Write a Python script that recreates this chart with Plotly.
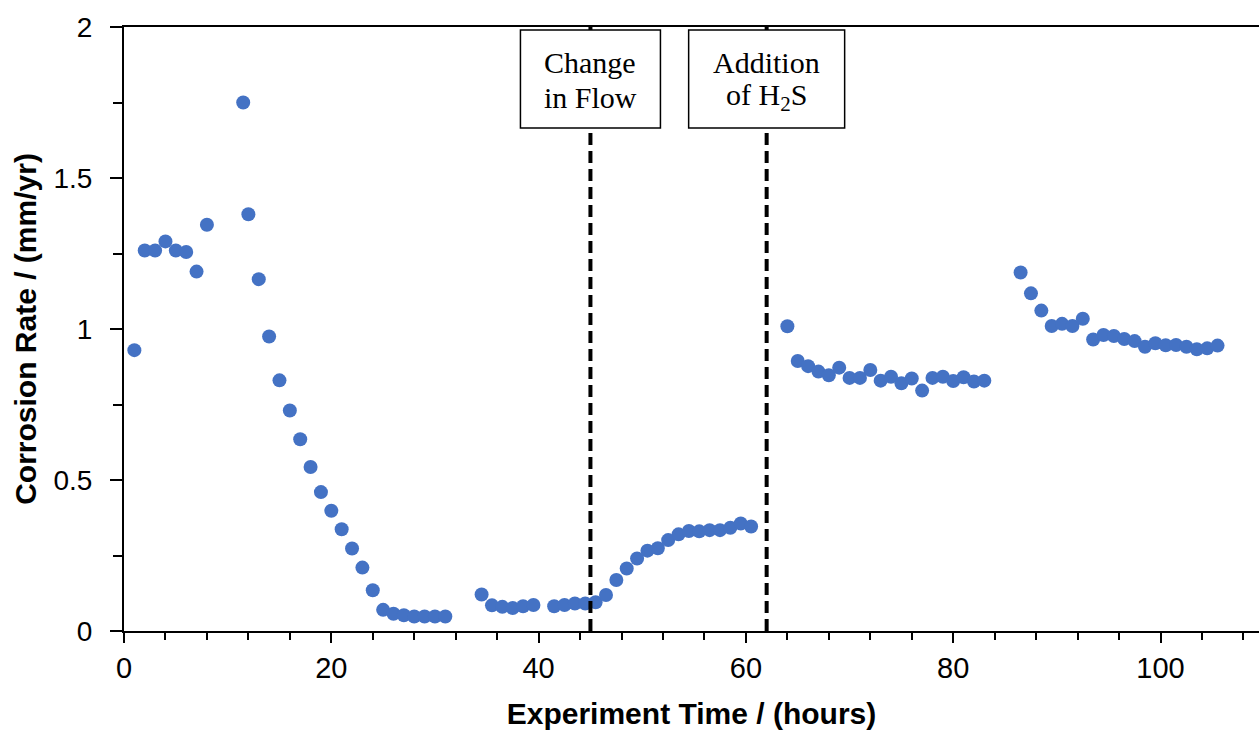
import plotly.graph_objects as go

# ---- data ----
time_hours = [1, 2, 3, 4, 5, 6, 7, 8, 11.5, 12, 13, 14, 15, 16, 17, 18, 19, 20, 21, 22, 23, 24,
              25, 26, 27, 28, 29, 30, 31,
              34.5, 35.5, 36.5, 37.5, 38.5, 39.5,
              41.5, 42.5, 43.5, 44.5, 45.5, 46.5, 47.5, 48.5, 49.5, 50.5, 51.5, 52.5, 53.5,
              54.5, 55.5, 56.5, 57.5, 58.5, 59.5, 60.5,
              64, 65, 66, 67, 68, 69, 70, 71, 72, 73, 74, 75, 76, 77, 78, 79, 80, 81, 82, 83,
              86.5, 87.5, 88.5, 89.5, 90.5, 91.5, 92.5, 93.5, 94.5, 95.5, 96.5, 97.5, 98.5,
              99.5, 100.5, 101.5, 102.5, 103.5, 104.5, 105.5]
corrosion_rate = [0.93, 1.26, 1.26, 1.29, 1.26, 1.255, 1.19, 1.345, 1.75, 1.38, 1.165, 0.975,
                  0.83, 0.73, 0.635, 0.543, 0.46, 0.398, 0.337, 0.273, 0.21, 0.135,
                  0.07, 0.057, 0.052, 0.048, 0.048, 0.048, 0.048,
                  0.121, 0.085, 0.08, 0.076, 0.082, 0.086,
                  0.082, 0.086, 0.091, 0.091, 0.095, 0.119, 0.169, 0.207, 0.24, 0.266, 0.274,
                  0.301, 0.32, 0.331, 0.33, 0.334, 0.334, 0.342, 0.356, 0.346,
                  1.009, 0.894, 0.877, 0.859, 0.847, 0.872, 0.838, 0.838, 0.864, 0.829, 0.842,
                  0.82, 0.836, 0.796, 0.838, 0.842, 0.828, 0.84, 0.826, 0.829,
                  1.187, 1.118, 1.061, 1.01, 1.017, 1.01, 1.034, 0.965, 0.98, 0.977, 0.967,
                  0.96, 0.941, 0.953, 0.946, 0.947, 0.941, 0.933, 0.936, 0.945]

event_times = [45, 62]
event_lines_1 = ["Change", "Addition"]
event_lines_2 = ["in Flow", "of H<sub>2</sub>S"]
event_box_half_widths = [70, 78]

x_tick_values = [0, 20, 40, 60, 80, 100]
y_tick_values = [0, 0.5, 1, 1.5, 2]
y_tick_labels = ["0", "0.5", "1", "1.5", "2"]

BLUE = "#4472C4"
SANS = "Arial, Liberation Sans, sans-serif"
SERIF = "Times New Roman, Liberation Serif, serif"

fig = go.Figure()
fig.add_trace(go.Scatter(
    x=time_hours, y=corrosion_rate, mode="markers",
    marker=dict(color=BLUE, size=14, line=dict(width=0)),
    showlegend=False, hoverinfo="x+y",
))

shapes = []
annotations = []
for t, l1, l2, hw in zip(event_times, event_lines_1, event_lines_2, event_box_half_widths):
    shapes.append(dict(type="line", xref="x", yref="y", x0=t, x1=t, y0=0, y1=2,
                       line=dict(color="black", width=4, dash="12px,6px"), layer="above"))
    shapes.append(dict(type="rect", xref="x", yref="y", xsizemode="pixel", ysizemode="pixel",
                       xanchor=t, x0=-hw, x1=hw, yanchor=2, y0=-3, y1=-101,
                       fillcolor="white", line=dict(color="black", width=1.5), layer="above"))
    annotations.append(dict(x=t, y=2, xref="x", yref="y", text=l1, showarrow=False,
                            yanchor="middle", yshift=-35,
                            font=dict(family=SERIF, size=30, color="black")))
    annotations.append(dict(x=t, y=2, xref="x", yref="y", text=l2, showarrow=False,
                            yanchor="middle", yshift=-70,
                            font=dict(family=SERIF, size=30, color="black")))

fig.update_layout(
    width=1259, height=730,
    margin=dict(l=124, r=0, t=27, b=99, pad=0),
    plot_bgcolor="white", paper_bgcolor="white",
    shapes=shapes, annotations=annotations,
    xaxis=dict(
        range=[0, 109.5], tickvals=x_tick_values, showgrid=False, zeroline=False,
        showline=True, linecolor="black", linewidth=2, mirror=True,
        ticks="outside", ticklen=10, tickwidth=2, tickcolor="black",
        minor=dict(dtick=4, tick0=0, ticks="outside", ticklen=7, tickwidth=2, tickcolor="black", showgrid=False),
        tickfont=dict(family=SANS, size=29, color="black"),
        title=dict(text="<b>Experiment Time / (hours)</b>", font=dict(family=SANS, size=30, color="black"), standoff=20),
    ),
    yaxis=dict(
        range=[0, 2], tickvals=y_tick_values, ticktext=y_tick_labels, showgrid=False, zeroline=False,
        showline=True, linecolor="black", linewidth=2,
        ticks="outside", ticklen=12, tickwidth=2, tickcolor="black", ticklabelstandoff=12,
        minor=dict(dtick=0.25, tick0=0, ticks="outside", ticklen=9, tickwidth=2, tickcolor="black", showgrid=False),
        tickfont=dict(family=SANS, size=28, color="black"),
        title=dict(text="<b>Corrosion Rate / (mm/yr)</b>", font=dict(family=SANS, size=30, color="black"), standoff=8),
    ),
)

fig.write_html("out.html")
